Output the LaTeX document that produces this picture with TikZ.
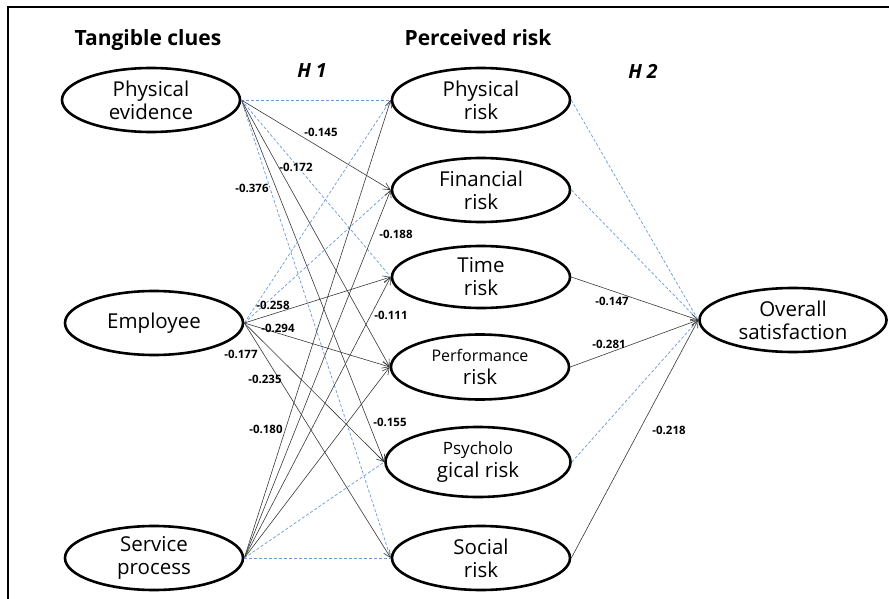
\documentclass[tikz,border=0pt]{standalone}
\usepackage{fontspec}
\setmainfont{Open Sans}
\usepackage{tikz}
\definecolor{dblue}{rgb}{0.42, 0.6, 0.84}
\definecolor{dgray}{rgb}{0.22, 0.22, 0.22}
\usetikzlibrary{shapes.geometric, arrows.meta}
\tikzset{var/.style = {ellipse,draw,line width=2.6pt,minimum width=178pt,minimum height=64pt,inner sep=-4pt,align=center,font=\fontsize{20.5}{23}\selectfont}}
\tikzset{eff/.style = {->,dgray,line width=0.6pt}}
\tikzset{nsig/.style = {dblue,dash pattern=on 3pt off 2pt,line width=0.7pt}}
\tikzset{coef/.style = {font=\fontsize{11.5}{13}\selectfont\bfseries}}
\tikzset{head/.style = {font=\fontsize{21}{24}\selectfont\bfseries}}
\tikzset{hyp/.style = {font=\fontsize{19.5}{22}\selectfont\bfseries\itshape}}

\begin{document}
\begin{tikzpicture}[x=1pt,y=-1pt,>={Straight Barb[length=7pt,width=7pt]}]
      \useasboundingbox (0,0) rectangle (889,599);
      \draw [line width=1.2pt] (8,599) -- (8,7) -- (889,7);
      \node [head] (tc) at (148,40) {Tangible clues};
      \node [head] (pr) at (478,38) {Perceived risk};
      \node [hyp] (h1) at (312,71) {H\hspace{5pt}1};
      \node [hyp] (h2) at (643,71) {H\hspace{5pt}2};
      % tangible clues
      \node [var] (pe) at (151,100) {Physical\\evidence};
      \node [var] (emp) at (154,323) {Employee};
      \node [var] (sp) at (154,558) {Service\\process};
      % perceived risk
      \node [var] (phr) at (481,100) {Physical\\risk};
      \node [var] (fnr) at (481,190) {Financial\\risk};
      \node [var, minimum height=62pt] (tmr) at (481,277) {Time\\risk};
      \node [var, minimum height=65pt] (pfr) at (480,367) {{\fontsize{16}{19}\selectfont Performance}\\risk};
      \node [var, minimum width=185pt, minimum height=70pt] (psr) at (478,462) {{\fontsize{17}{20}\selectfont Psycholo}\\gical risk};
      \node [var] (scr) at (481,558) {Social\\risk};
      \node [var, minimum width=187pt] (sat) at (793,320) {Overall\\satisfaction};
      % H1
      \draw [nsig] (pe.east) -- (phr.west);
      \draw [eff] (pe.east) -- (fnr.west);
      \draw [nsig] (pe.east) -- (tmr.west);
      \draw [eff] (pe.east) -- (pfr.west);
      \draw [eff] (pe.east) -- (psr.west);
      \draw [nsig] (pe.east) -- (scr.west);
      \draw [nsig] (emp.east) -- (phr.west);
      \draw [nsig] (emp.east) -- (fnr.west);
      \draw [eff] (emp.east) -- (tmr.west);
      \draw [eff] (emp.east) -- (pfr.west);
      \draw [eff] (emp.east) -- (psr.west);
      \draw [eff] (emp.east) -- (scr.west);
      \draw [eff] (sp.east) -- (phr.west);
      \draw [eff] (sp.east) -- (fnr.west);
      \draw [eff] (sp.east) -- (tmr.west);
      \draw [eff] (sp.east) -- (pfr.west);
      \draw [nsig] (sp.east) -- (psr.west);
      \draw [nsig] (sp.east) -- (scr.west);
      % H2
      \draw [nsig] (phr.east) -- (sat.west);
      \draw [nsig] (fnr.east) -- (sat.west);
      \draw [eff] (tmr.east) -- (sat.west);
      \draw [eff] (pfr.east) -- (sat.west);
      \draw [nsig] (psr.east) -- (sat.west);
      \draw [eff] (scr.east) -- (sat.west);
      % coefficients
      \node [coef] (c1) at (321,132) {-0.145};
      \node [coef] (c2) at (296,167) {-0.172};
      \node [coef] (c3) at (252,188) {-0.376};
      \node [coef] (c4) at (396,234) {-0.188};
      \node [coef] (c5) at (273,305) {-0.258};
      \node [coef] (c6) at (278,328) {-0.294};
      \node [coef] (c7) at (241,354) {-0.177};
      \node [coef] (c8) at (265,379) {-0.235};
      \node [coef] (c9) at (266,429) {-0.180};
      \node [coef] (c10) at (391,315) {-0.111};
      \node [coef] (c11) at (390,422) {-0.155};
      \node [coef] (c12) at (612,301) {-0.147};
      \node [coef] (c13) at (609,344) {-0.281};
      \node [coef] (c14) at (669,430) {-0.218};
    \end{tikzpicture}
\end{document}
